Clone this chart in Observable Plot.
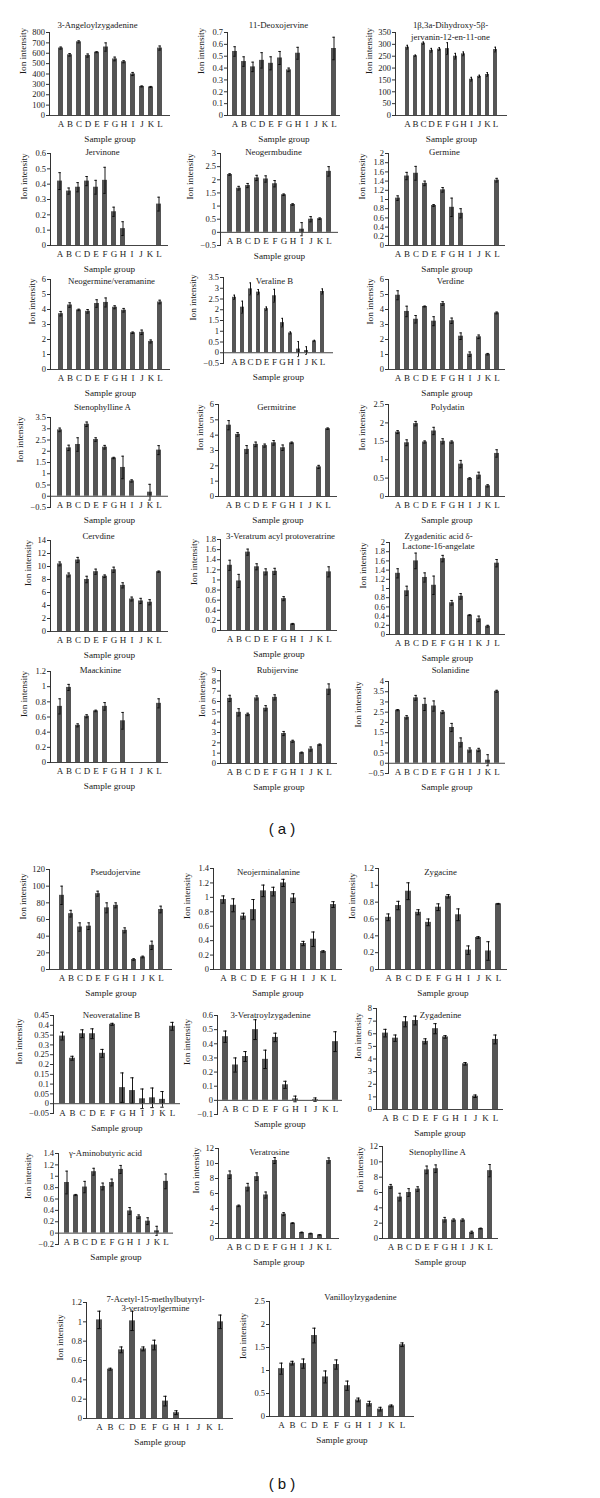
<!DOCTYPE html>
<html><head><meta charset="utf-8">
<script src="https://cdn.jsdelivr.net/npm/d3@7"></script>
<script src="https://cdn.jsdelivr.net/npm/@observablehq/plot@0.6"></script>
<style>
body{margin:0;background:#fff;}
#fig{position:relative;width:600px;height:1498px;overflow:hidden;background:#fff;}
#fig svg{position:absolute;}
.cap{position:absolute;font-family:"Liberation Sans",Arial,sans-serif;font-size:15px;color:#111;transform:translate(-50%,-50%);white-space:pre;}
</style></head><body><div id="fig"></div>
<script>
// ---------- categories ----------
const groups = ["A","B","C","D","E","F","G","H","I","J","K","L"];
const groupsKJ = ["A","B","C","D","E","F","G","H","I","K","J","L"];

// ---------- panel (a) ----------
const angeloylVal = [650,585,710,578,610,660,545,518,400,280,275,650];
const angeloylErr = [10,12,10,15,5,40,18,10,15,5,5,20];
const angeloylTicks = [0,100,200,300,400,500,600,700,800];

const deoxoVal = [0.54,0.455,0.41,0.465,0.44,0.485,0.385,0.525,0,0,0,0.565];
const deoxoErr = [0.04,0.04,0.04,0.065,0.055,0.055,0.015,0.05,0,0,0,0.095];
const deoxoTicks = [0,0.1,0.2,0.3,0.4,0.5,0.6,0.7];

const dihydroxyVal = [288,252,305,275,280,282,250,260,153,165,173,278];
const dihydroxyErr = [8,3,5,8,6,25,12,8,8,5,8,10];
const dihydroxyTicks = [0,50,100,150,200,250,300,350];

const jervinoneVal = [0.42,0.355,0.38,0.42,0.38,0.425,0.22,0.11,0,0,0,0.27];
const jervinoneErr = [0.055,0.02,0.03,0.03,0.045,0.085,0.03,0.045,0,0,0,0.045];
const jervinoneTicks = [0,0.1,0.2,0.3,0.4,0.5,0.6];

const neogermbudineVal = [2.2,1.68,1.78,2.07,2.03,1.85,1.43,1.06,0.12,0.5,0.52,2.32];
const neogermbudineErr = [0.03,0.07,0.08,0.1,0.12,0.12,0.03,0.03,0.25,0.1,0.03,0.18];
const neogermbudineTicks = [-0.5,0,0.5,1,1.5,2,2.5,3];

const germineVal = [1.03,1.51,1.57,1.35,0.87,1.21,0.83,0.7,0,0,0,1.42];
const germineErr = [0.05,0.08,0.15,0.05,0.02,0.05,0.2,0.1,0,0,0,0.04];
const germineTicks = [0,0.2,0.4,0.6,0.8,1,1.2,1.4,1.6,1.8,2];

const neogermineVal = [3.72,4.3,3.97,3.88,4.4,4.47,4.15,3.95,2.45,2.48,1.87,4.5];
const neogermineErr = [0.15,0.15,0.05,0.12,0.25,0.3,0.1,0.12,0.05,0.15,0.1,0.12];
const neogermineTicks = [0,1,2,3,4,5,6];

const veralineVal = [2.58,2.12,2.97,2.82,2.05,2.65,1.4,0.92,0.17,0.1,0.55,2.85];
const veralineErr = [0.1,0.28,0.28,0.12,0.08,0.3,0.2,0.05,0.35,0.18,0.03,0.12];
const veralineTicks = [-0.5,0,0.5,1,1.5,2,2.5,3,3.5];

const verdineVal = [4.95,3.87,3.35,4.2,3.22,4.4,3.25,2.22,1.02,2.18,1.02,3.77];
const verdineErr = [0.3,0.35,0.25,0.03,0.3,0.12,0.18,0.22,0.15,0.12,0.05,0.06];
const verdineTicks = [0,1,2,3,4,5,6];

const stenoAVal = [2.95,2.15,2.3,3.2,2.52,2.18,1.7,1.28,0.68,0,0.18,2.05];
const stenoAErr = [0.08,0.12,0.3,0.1,0.08,0.08,0.03,0.5,0.05,0,0.35,0.2];
const stenoATicks = [-0.5,0,0.5,1,1.5,2,2.5,3,3.5];

const germitrineVal = [4.65,4.05,3.07,3.4,3.32,3.5,3.18,3.5,0,0,1.93,4.42];
const germitrineErr = [0.3,0.12,0.25,0.15,0.1,0.15,0.18,0.05,0,0,0.1,0.05];
const germitrineTicks = [0,1,2,3,4,5,6];

const polydatinVal = [1.75,1.46,1.98,1.48,1.78,1.5,1.48,0.88,0.49,0.58,0.29,1.17];
const polydatinErr = [0.04,0.08,0.06,0.03,0.1,0.07,0.03,0.1,0.02,0.08,0.03,0.1];
const polydatinTicks = [0,0.5,1,1.5,2,2.5];

const cervdineVal = [10.4,8.7,11.0,8.0,9.2,8.5,9.5,7.1,5.0,4.7,4.5,9.2];
const cervdineErr = [0.3,0.3,0.4,0.5,0.4,0.2,0.4,0.4,0.3,0.4,0.4,0.1];
const cervdineTicks = [0,2,4,6,8,10,12,14];

const veratrumAcylVal = [1.29,0.98,1.55,1.26,1.16,1.17,0.63,0.13,0,0,0,1.16];
const veratrumAcylErr = [0.1,0.13,0.06,0.06,0.06,0.06,0.04,0.01,0,0,0,0.1];
const veratrumAcylTicks = [0,0.2,0.4,0.6,0.8,1,1.2,1.4,1.6,1.8];

// order A..I, K, J, L
const zygadeniticVal = [1.33,0.95,1.6,1.24,1.07,1.65,0.69,0.83,0.42,0.34,0.18,1.55];
const zygadeniticErr = [0.1,0.1,0.17,0.1,0.2,0.07,0.05,0.06,0.01,0.06,0.02,0.08];
const zygadeniticTicks = [0,0.2,0.4,0.6,0.8,1,1.2,1.4,1.6,1.8,2];

const maackinineVal = [0.74,0.99,0.49,0.61,0.68,0.74,0,0.55,0,0,0,0.78];
const maackinineErr = [0.1,0.04,0.02,0.02,0.01,0.05,0,0.11,0,0,0,0.06];
const maackinineTicks = [0,0.2,0.4,0.6,0.8,1,1.2];

const rubijervineVal = [6.3,4.95,4.75,6.35,5.35,6.4,2.9,2.15,1.05,1.4,1.82,7.2];
const rubijervineErr = [0.3,0.35,0.12,0.2,0.25,0.25,0.2,0.1,0.05,0.2,0.06,0.5];
const rubijervineTicks = [0,1,2,3,4,5,6,7,8,9];

const solanidineVal = [2.6,2.25,3.2,2.88,2.8,2.5,1.75,1.02,0.65,0.65,0.15,3.52];
const solanidineErr = [0.03,0.08,0.12,0.3,0.25,0.07,0.2,0.22,0.1,0.08,0.27,0.05];
const solanidineTicks = [-0.5,0,0.5,1,1.5,2,2.5,3,3.5,4];

// ---------- panel (b) ----------
const pseudojervineVal = [89,67,51,52,91,74,77,47,12,15,29,72];
const pseudojervineErr = [11,4,5,4,3,6,3,3,1,1,5,4];
const pseudojervineTicks = [0,20,40,60,80,100,120];

const neojerminalanineVal = [0.97,0.89,0.74,0.83,1.09,1.08,1.2,0.99,0.36,0.42,0.25,0.9];
const neojerminalanineErr = [0.05,0.09,0.04,0.14,0.08,0.06,0.05,0.06,0.03,0.1,0.01,0.04];
const neojerminalanineTicks = [0,0.2,0.4,0.6,0.8,1,1.2,1.4];

const zygacineVal = [0.62,0.76,0.93,0.68,0.56,0.74,0.87,0.65,0.23,0.38,0.22,0.78];
const zygacineErr = [0.04,0.05,0.1,0.03,0.04,0.04,0.02,0.07,0.05,0.01,0.11,0.005];
const zygacineTicks = [0,0.2,0.4,0.6,0.8,1,1.2];

const neoveratalineVal = [0.345,0.232,0.357,0.357,0.257,0.405,0.082,0.067,0.025,0.03,0.022,0.395];
const neoveratalineErr = [0.02,0.01,0.02,0.025,0.02,0.005,0.075,0.065,0.05,0.05,0.04,0.02];
const neoveratalineTicks = [-0.05,0,0.05,0.1,0.15,0.2,0.25,0.3,0.35,0.4,0.45];

const veratroylzygVal = [0.45,0.25,0.31,0.5,0.29,0.445,0.11,0.01,0,0.005,0,0.415];
const veratroylzygErr = [0.04,0.05,0.035,0.07,0.065,0.03,0.025,0.02,0,0.012,0,0.07];
const veratroylzygTicks = [-0.1,0,0.1,0.2,0.3,0.4,0.5,0.6];

const zygadenineVal = [6.05,5.65,6.95,7.05,5.4,6.4,5.75,0,3.62,1.05,0,5.55];
const zygadenineErr = [0.3,0.25,0.4,0.35,0.2,0.4,0.1,0,0.1,0.1,0,0.35];
const zygadenineTicks = [0,1,2,3,4,5,6,7,8];

const gabaVal = [0.89,0.67,0.81,1.08,0.82,0.89,1.12,0.39,0.29,0.21,0.04,0.91];
const gabaErr = [0.2,0.01,0.1,0.06,0.06,0.06,0.07,0.06,0.03,0.06,0.08,0.13];
const gabaTicks = [-0.2,0,0.2,0.4,0.6,0.8,1,1.2,1.4];

const veratrosineVal = [8.5,4.35,6.85,8.25,5.8,10.4,3.25,2.05,0.8,0.65,0.48,10.4];
const veratrosineErr = [0.5,0.1,0.5,0.5,0.4,0.4,0.2,0.05,0.05,0.05,0.03,0.35];
const veratrosineTicks = [0,2,4,6,8,10,12];

const stenoBVal = [6.8,5.4,6.0,6.45,8.95,9.1,2.45,2.4,2.4,0.8,1.3,8.85];
const stenoBErr = [0.25,0.5,0.5,0.3,0.5,0.5,0.3,0.15,0.15,0.15,0.05,0.8];
const stenoBTicks = [0,2,4,6,8,10,12];

const acetylVal = [1.02,0.51,0.71,1.01,0.72,0.76,0.18,0.06,0,0,0,1.0];
const acetylErr = [0.09,0.01,0.03,0.1,0.02,0.05,0.05,0.02,0,0,0,0.07];
const acetylTicks = [0,0.2,0.4,0.6,0.8,1,1.2];

const vanilloylVal = [1.04,1.16,1.15,1.76,0.86,1.13,0.67,0.36,0.28,0.16,0.23,1.56];
const vanilloylErr = [0.12,0.04,0.1,0.16,0.13,0.1,0.1,0.04,0.05,0.04,0.02,0.04];
const vanilloylTicks = [0,0.5,1,1.5,2,2.5];

// ---------- chart table ----------
const charts = [
  {title:["3-Angeloylzygadenine"], groups, values:angeloylVal, errors:angeloylErr, ticks:angeloylTicks},
  {title:["11-Deoxojervine"], groups, values:deoxoVal, errors:deoxoErr, ticks:deoxoTicks},
  {title:["1β,3a-Dihydroxy-5β-","jervanin-12-en-11-one"], groups, values:dihydroxyVal, errors:dihydroxyErr, ticks:dihydroxyTicks},
  {title:["Jervinone"], groups, values:jervinoneVal, errors:jervinoneErr, ticks:jervinoneTicks},
  {title:["Neogermbudine"], groups, values:neogermbudineVal, errors:neogermbudineErr, ticks:neogermbudineTicks},
  {title:["Germine"], groups, values:germineVal, errors:germineErr, ticks:germineTicks},
  {title:["Neogermine/veramanine"], groups, values:neogermineVal, errors:neogermineErr, ticks:neogermineTicks},
  {title:["Veraline B"], groups, values:veralineVal, errors:veralineErr, ticks:veralineTicks},
  {title:["Verdine"], groups, values:verdineVal, errors:verdineErr, ticks:verdineTicks},
  {title:["Stenophylline A"], groups, values:stenoAVal, errors:stenoAErr, ticks:stenoATicks},
  {title:["Germitrine"], groups, values:germitrineVal, errors:germitrineErr, ticks:germitrineTicks},
  {title:["Polydatin"], groups, values:polydatinVal, errors:polydatinErr, ticks:polydatinTicks},
  {title:["Cervdine"], groups, values:cervdineVal, errors:cervdineErr, ticks:cervdineTicks},
  {title:["3-Veratrum acyl protoveratrine"], groups, values:veratrumAcylVal, errors:veratrumAcylErr, ticks:veratrumAcylTicks},
  {title:["Zygadenitic acid δ-","Lactone-16-angelate"], groups:groupsKJ, values:zygadeniticVal, errors:zygadeniticErr, ticks:zygadeniticTicks},
  {title:["Maackinine"], groups, values:maackinineVal, errors:maackinineErr, ticks:maackinineTicks},
  {title:["Rubijervine"], groups, values:rubijervineVal, errors:rubijervineErr, ticks:rubijervineTicks},
  {title:["Solanidine"], groups, values:solanidineVal, errors:solanidineErr, ticks:solanidineTicks},
  {title:["Pseudojervine"], groups, values:pseudojervineVal, errors:pseudojervineErr, ticks:pseudojervineTicks},
  {title:["Neojerminalanine"], groups, values:neojerminalanineVal, errors:neojerminalanineErr, ticks:neojerminalanineTicks},
  {title:["Zygacine"], groups, values:zygacineVal, errors:zygacineErr, ticks:zygacineTicks},
  {title:["Neoverataline B"], groups, values:neoveratalineVal, errors:neoveratalineErr, ticks:neoveratalineTicks},
  {title:["3-Veratroylzygadenine"], groups, values:veratroylzygVal, errors:veratroylzygErr, ticks:veratroylzygTicks},
  {title:["Zygadenine"], groups, values:zygadenineVal, errors:zygadenineErr, ticks:zygadenineTicks},
  {title:["γ-Aminobutyric acid"], groups, values:gabaVal, errors:gabaErr, ticks:gabaTicks},
  {title:["Veratrosine"], groups, values:veratrosineVal, errors:veratrosineErr, ticks:veratrosineTicks},
  {title:["Stenophylline A"], groups, values:stenoBVal, errors:stenoBErr, ticks:stenoBTicks},
  {title:["7-Acetyl-15-methylbutyryl-","3-veratroylgermine"], groups, values:acetylVal, errors:acetylErr, ticks:acetylTicks},
  {title:["Vanilloylzygadenine"], groups, values:vanilloylVal, errors:vanilloylErr, ticks:vanilloylTicks}
];

// ---------- layout: [frameLeft, frameRight, frameTop, frameBottom, titleCenterX, titleCenterY, lineGap] ----------
const layout = [
  [49,170,32,115,97,25],
  [227,340,32,115,278,25],
  [395,507,32,115,450,25,12],
  [50,168,153,245,102,152],
  [220,338,153,245,273,152],
  [388,505,153,245,444,152],
  [50,170,279,369,111,281],
  [223,333,277,363,274,281],
  [388,505,279,369,450,281],
  [50,168,417,507,102,407],
  [218,337,404,496,276,407],
  [388,505,404,496,447,407],
  [50,168,540,631,98,536],
  [220,337,539,630,280,536],
  [389,505,542,634,438,536,10],
  [50,168,671,762,100,670],
  [220,337,670,763,277,670],
  [388,505,681,773,450,670],
  [49,172,869,969,115,872],
  [213,342,868,969,268,872],
  [378,507,868,969,440,872],
  [53,180,1015,1113,111,1015],
  [217,342,1015,1114,270,1015],
  [376,503,1008,1109,440,1015],
  [58,173,1153,1244,105,1153],
  [218,339,1148,1238,269,1152],
  [382,498,1146,1238,437,1152],
  [86,233,1302,1418,155,1299,9],
  [269,414,1301,1416,360,1297]
];

const SERIF = '"Liberation Serif","Times New Roman",serif';
const fmt = d => d < 0 ? "\u2212" + String(-d) : String(d);

function makeChart(c, L) {
  const [left, right, top, bottom, tx, ty, gap = 10] = L;
  const mL = 46, mR = 12, mT = 30, mB = 36;
  const width = right - left + mL + mR, height = bottom - top + mT + mB;
  const rows = c.groups.map((g, i) => ({g, v: c.values[i], e: c.errors[i]}));
  const errRows = rows.filter(d => d.e > 0);
  const maxLen = d3.max(c.ticks, t => fmt(t).length);
  const svg = Plot.plot({
    width, height, marginLeft: mL, marginRight: mR, marginTop: mT, marginBottom: mB,
    style: {fontFamily: SERIF, fontSize: "8.5px", color: "#1a1a1a", background: "transparent", overflow: "visible"},
    x: {domain: c.groups, padding: 0.45, axis: null},
    y: {domain: [c.ticks[0], c.ticks[c.ticks.length - 1]], axis: null},
    marks: [
      Plot.barY(rows.filter(d => d.v > 0), {x: "g", y: "v", fill: "#555"}),
      Plot.ruleX(errRows, {x: "g", y1: d => d.v - d.e, y2: d => d.v + d.e, stroke: "#000", strokeWidth: 0.9}),
      Plot.tickY(errRows, {x: "g", y: d => d.v + d.e, stroke: "#000", strokeWidth: 0.9, insetLeft: 1.3, insetRight: 1.3}),
      Plot.tickY(errRows, {x: "g", y: d => d.v - d.e, stroke: "#000", strokeWidth: 0.9, insetLeft: 1.3, insetRight: 1.3}),
      Plot.ruleY([0], {stroke: "#444", strokeWidth: 1}),
      Plot.axisY({ticks: c.ticks, tickFormat: fmt, tickSize: 3, tickPadding: 1.5, label: null, stroke: "#333", fontSize: 8.5}),
      Plot.frame({anchor: "left", stroke: "#333"}),
      Plot.text(c.groups, {x: d => d, y: () => 0, dy: 9, fontSize: 9, lineAnchor: "middle"}),
      Plot.text(["Sample group"], {frameAnchor: "middle", y: () => 0, dy: 24, fontSize: 9.2, lineAnchor: "middle"}),
      Plot.text(["Ion intensity"], {frameAnchor: "left", dx: -(14 + 4 * maxLen), rotate: -90, fontSize: 9.2, lineAnchor: "middle"}),
      ...c.title.map((t, i) => Plot.text([t], {frameAnchor: "top-left", dx: tx - left, dy: ty - top + i * gap, textAnchor: "middle", lineAnchor: "middle", fontSize: 8.8}))
    ]
  });
  svg.style.left = (left - mL) + "px";
  svg.style.top = (top - mT) + "px";
  return svg;
}

const fig = document.getElementById("fig");
charts.forEach((c, i) => fig.appendChild(makeChart(c, layout[i])));

const captions = [["( a )", 282, 828], ["( b )", 282, 1483]];
for (const [t, x, y] of captions) {
  const d = document.createElement("div");
  d.className = "cap";
  d.textContent = t;
  d.style.left = x + "px";
  d.style.top = y + "px";
  fig.appendChild(d);
}
</script></body></html>
